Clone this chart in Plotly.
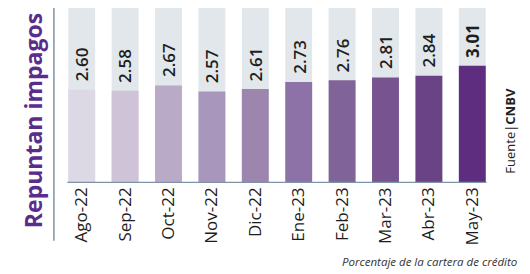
import plotly.graph_objects as go

months = ["Ago-22", "Sep-22", "Oct-22", "Nov-22", "Dic-22", "Ene-23", "Feb-23", "Mar-23", "Abr-23", "May-23"]
values = [2.60, 2.58, 2.67, 2.57, 2.61, 2.73, 2.76, 2.81, 2.84, 3.01]
labels = ["2.60", "2.58", "2.67", "2.57", "2.61", "2.73", "2.76", "2.81", "2.84", "3.01"]
bar_colors = ["#dcd8e4", "#cfc3d8", "#b9aac8", "#a996bd", "#9c86ad",
              "#8c72a6", "#7f6399", "#775490", "#6a4286", "#5e2d80"]
y_min, y_max = 1.0, 4.0

title = "Repuntan impagos"
source = "Fuente|<b>CNBV</b>"
note = "Porcentaje de la cartera de crédito"

fig = go.Figure()
fig.add_trace(go.Bar(x=months, y=[y_max - y_min] * len(months), base=y_min,
                     marker=dict(color="#e1e7eb", line=dict(width=0)),
                     hoverinfo="skip", showlegend=False))
fig.add_trace(go.Bar(x=months, y=[v - y_min for v in values], base=y_min,
                     marker=dict(color=bar_colors, line=dict(width=0)),
                     showlegend=False))

for m, v, t in zip(months, values, labels):
    fig.add_annotation(x=m, y=v, text=t,
                       textangle=-90, showarrow=False,
                       xanchor="center", yanchor="bottom", yshift=6,
                       font=dict(family="Open Sans", size=17, color="#1e1e1e",
                                 weight=700 if t == "3.01" else 600))

fig.add_annotation(xref="paper", yref="paper", x=-0.062, y=0.354, text="<b>%s</b>" % title,
                   textangle=-90, showarrow=False, xanchor="center", yanchor="middle",
                   font=dict(family="Open Sans", size=23, color="#5a2d8c"))
fig.add_annotation(xref="paper", yref="paper", x=1.035, y=0.30, text=source,
                   textangle=-90, showarrow=False, xanchor="center", yanchor="middle",
                   font=dict(family="Open Sans", size=13, color="#222222"))
fig.add_annotation(xref="paper", yref="paper", x=1.058, y=-0.45, text="<i>%s</i>" % note,
                   showarrow=False, xanchor="right", yanchor="middle",
                   font=dict(family="Open Sans", size=11.5, color="#333333"))

# vertical rule next to title, baseline
fig.add_shape(type="line", xref="paper", yref="paper", x0=-0.014, x1=-0.014, y0=1.0, y1=-0.33,
              line=dict(color="#7f93a6", width=1.5))
fig.add_shape(type="line", xref="x", yref="y", x0=-0.33, x1=9.33, y0=y_min, y1=y_min,
              line=dict(color="#7f93a6", width=2.5))

fig.update_layout(
    width=530, height=274,
    margin=dict(l=60, r=36, t=8, b=91),
    barmode="overlay", bargap=0.38,
    paper_bgcolor="white", plot_bgcolor="white",
    xaxis=dict(showgrid=False, showline=False, zeroline=False, ticks="",
               tickangle=-90, tickfont=dict(family="Open Sans", size=17, color="#1e1e1e")),
    yaxis=dict(range=[y_min, y_max], visible=False, showgrid=False),
)
fig.write_html("out.html",
               config={"displayModeBar": False},
               post_script="document.body.style.margin='0';document.body.style.overflow='hidden';")
